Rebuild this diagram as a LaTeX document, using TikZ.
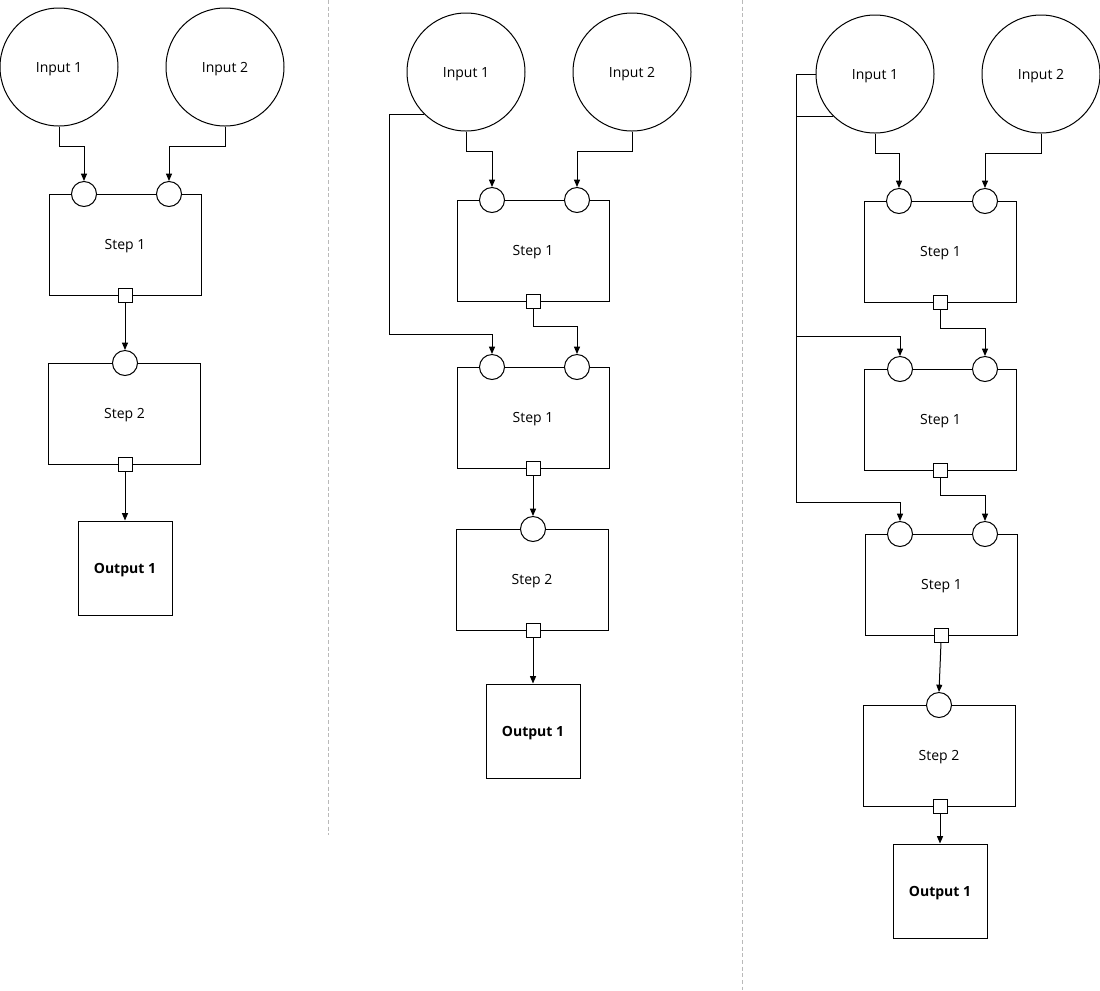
\documentclass[tikz,border=0pt]{standalone}
\usepackage{fontspec}
\setmainfont{Open Sans}
\usetikzlibrary{arrows.meta}
\begin{document}
\begin{tikzpicture}[x=0.75pt,y=-0.75pt,
  every node/.style={font=\fontsize{10.5pt}{12pt}\selectfont, inner sep=0pt, text height=7.6pt, text depth=0pt},
  ln/.style={line width=0.75pt, black},
  arr/.style={ln, -{Triangle[length=5.5pt,width=4.5pt]}},
  bigc/.style={circle, draw, ln, minimum size=88.5pt},
  stepbox/.style={rectangle, draw, ln, fill=white, minimum width=114pt, minimum height=75.75pt},
  inport/.style={circle, draw, ln, fill=white, minimum size=18.75pt},
  outport/.style={rectangle, draw, ln, fill=white, minimum size=10.5pt},
  outbox/.style={rectangle, draw, ln, minimum size=70.5pt, font=\fontsize{10.5pt}{12pt}\selectfont\bfseries},
  sep/.style={line width=0.75pt, gray!55, dash pattern=on 3pt off 2pt}
]
\useasboundingbox (0,0) rectangle (1100,990);

% separators
\coordinate (sepA1) at (328,0); \coordinate (sepA2) at (328,835);
\coordinate (sepB1) at (742,0); \coordinate (sepB2) at (742,990);
\draw[sep] (sepA1) -- (sepA2);
\draw[sep] (sepB1) -- (sepB2);

% ---------- column 1 ----------
\node[bigc] (a_in1) at (59,67) {Input 1};
\node[bigc] (a_in2) at (225,67) {Input 2};
\node[stepbox] (a_s1) at (125,244.5) {Step 1};
\node[inport] (a_s1p1) at (84,194) {};
\node[inport] (a_s1p2) at (169,194) {};
\node[outport] (a_s1o) at (125,295) {};
\node[stepbox] (a_s2) at (124.5,413.5) {Step 2};
\node[inport] (a_s2p) at (125,363) {};
\node[outport] (a_s2o) at (125,464) {};
\node[outbox] (a_out) at (125,568) {Output 1};

\draw[arr] (a_in1.south) -- ++(0,20) -| (a_s1p1.north);
\draw[arr] (a_in2.south) -- ++(0,20) -| (a_s1p2.north);
\draw[arr] (a_s1o.south) -- (a_s2p.north);
\draw[arr] (a_s2o.south) -- (a_out.north);

% ---------- column 2 ----------
\node[bigc] (b_in1) at (466,72) {Input 1};
\node[bigc] (b_in2) at (632,72) {Input 2};
\node[stepbox] (b_s1) at (533,250.5) {Step 1};
\node[inport] (b_s1p1) at (492,200) {};
\node[inport] (b_s1p2) at (577,200) {};
\node[outport] (b_s1o) at (533,301) {};
\node[stepbox] (b_s2) at (533,417.5) {Step 1};
\node[inport] (b_s2p1) at (492,367) {};
\node[inport] (b_s2p2) at (577,367) {};
\node[outport] (b_s2o) at (533,468) {};
\node[stepbox] (b_s3) at (532,579.5) {Step 2};
\node[inport] (b_s3p) at (533,529) {};
\node[outport] (b_s3o) at (533,630) {};
\node[outbox] (b_out) at (533,731) {Output 1};
\coordinate (b_bus) at (389,334);

\draw[arr] (b_in1.south) -- ++(0,20) -| (b_s1p1.north);
\draw[arr] (b_in2.south) -- ++(0,20) -| (b_s1p2.north);
\draw[arr] (b_in1.225) -| (b_bus) -| (b_s2p1.north);
\draw[arr] (b_s1o.south) -- ++(0,18) -| (b_s2p2.north);
\draw[arr] (b_s2o.south) -- (b_s3p.north);
\draw[arr] (b_s3o.south) -- (b_out.north);

% ---------- column 3 ----------
\node[bigc] (c_in1) at (875,74) {Input 1};
\node[bigc] (c_in2) at (1041,74) {Input 2};
\node[stepbox] (c_s1) at (940.5,251.5) {Step 1};
\node[inport] (c_s1p1) at (899,201) {};
\node[inport] (c_s1p2) at (985,201) {};
\node[outport] (c_s1o) at (940,302) {};
\node[stepbox] (c_s2) at (940.5,419.5) {Step 1};
\node[inport] (c_s2p1) at (900,369) {};
\node[inport] (c_s2p2) at (985,369) {};
\node[outport] (c_s2o) at (940,470) {};
\node[stepbox] (c_s3) at (941.5,584.5) {Step 1};
\node[inport] (c_s3p1) at (900,534) {};
\node[inport] (c_s3p2) at (985,534) {};
\node[outport] (c_s3o) at (941,635) {};
\node[stepbox] (c_s4) at (939,755.5) {Step 2};
\node[inport] (c_s4p) at (939,705) {};
\node[outport] (c_s4o) at (940,806) {};
\node[outbox] (c_out) at (940,891) {Output 1};
\coordinate (c_bus1) at (796,336);
\coordinate (c_bus2) at (796,502);

\draw[arr] (c_in1.south) -- ++(0,20) -| (c_s1p1.north);
\draw[arr] (c_in2.south) -- ++(0,20) -| (c_s1p2.north);
\draw[arr] (c_in1.west) -| (c_bus2) -| (c_s3p1.north);
\draw[arr] (c_in1.225) -| (c_bus1) -| (c_s2p1.north);
\draw[arr] (c_s1o.south) -- ++(0,19) -| (c_s2p2.north);
\draw[arr] (c_s2o.south) -- ++(0,18) -| (c_s3p2.north);
\draw[arr] (c_s3o.south) -- (c_s4p.north);
\draw[arr] (c_s4o.south) -- (c_out.north);
\end{tikzpicture}
\end{document}
